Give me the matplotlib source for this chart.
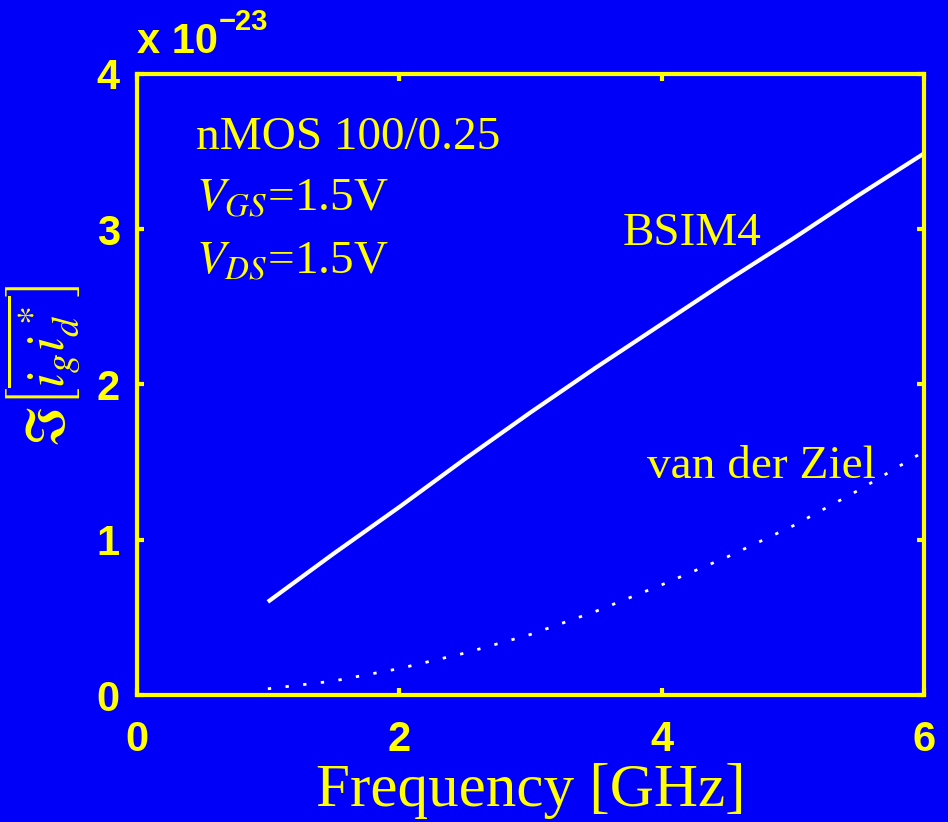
import numpy as np
import matplotlib
matplotlib.use("Agg")
import matplotlib.pyplot as plt

plt.rcParams['mathtext.fontset'] = 'stix'

# frequency in GHz, cross-spectrum in units of 1e-23
freq = [1.0, 1.5, 2.0, 2.5, 3.0, 3.5, 4.0, 4.5, 5.0, 5.5, 6.0]
bsim4 = [0.60, 0.91, 1.21, 1.52, 1.82, 2.11, 2.39, 2.67, 2.94, 3.22, 3.49]
vdziel = [0.04, 0.09, 0.17, 0.27, 0.39, 0.54, 0.71, 0.89, 1.09, 1.32, 1.57]

xticks = [0, 2, 4, 6]
yticks = [0, 1, 2, 3, 4]

bg = '#0000f8'
yel = '#ffff00'

fig = plt.figure(figsize=(9.48, 8.22), dpi=100, facecolor=bg)
ax = fig.add_axes([0.144, 0.1545, 0.8312, 0.7555], facecolor=bg)

ax.plot(freq, bsim4, color='white', lw=3, solid_capstyle='butt')
ax.plot(freq, vdziel, color='white', lw=2, linestyle=(0, (1.2, 5.2)))

ax.set_xlim(0, 6)
ax.set_ylim(0, 4)
ax.set_xticks(xticks)
ax.set_yticks(yticks)

for s in ax.spines.values():
    s.set_color(yel)
    s.set_linewidth(3)
ax.tick_params(direction='in', length=5, width=3, color=yel, top=True, right=True,
               labelcolor=yel, labelsize=30)
ax.tick_params(axis='x', pad=18)
ax.tick_params(axis='y', pad=12)
for lab in ax.get_xticklabels() + ax.get_yticklabels():
    lab.set_family('Liberation Sans')
    lab.set_weight('bold')

# exponent of the y axis
fig.text(0.1445, 0.935, 'x 10', color=yel, fontsize=30, fontweight='bold',
         family='Liberation Sans', ha='left', va='baseline')
fig.text(0.231, 0.964, '\u221223', color=yel, fontsize=21, fontweight='bold',
         family='Liberation Sans', ha='left', va='baseline')

serif = 'Liberation Serif'
ax.set_xlabel('Frequency [GHz]', color=yel, fontsize=44, family=serif, labelpad=2)
ax.set_ylabel(r'$\Im\left[\overline{i_g i_d^*}\right]$', color=yel, fontsize=39)
ax.yaxis.set_label_coords(-0.068, 0.53)

ax.text(0.075, 0.88, 'nMOS 100/0.25', transform=ax.transAxes, color=yel,
        fontsize=34, family=serif, va='baseline')
ax.text(0.075, 0.78, r'$V_{GS}$=1.5V', transform=ax.transAxes, color=yel,
        fontsize=34, family=serif, va='baseline')
ax.text(0.075, 0.68, r'$V_{DS}$=1.5V', transform=ax.transAxes, color=yel,
        fontsize=34, family=serif, va='baseline')
ax.text(3.70, 2.90, 'BSIM4', color=yel, fontsize=34, family=serif, va='baseline')
ax.text(3.89, 1.40, 'van der Ziel', color=yel, fontsize=34, family=serif, va='baseline')

fig.savefig('out.png', dpi=100, facecolor=bg)
